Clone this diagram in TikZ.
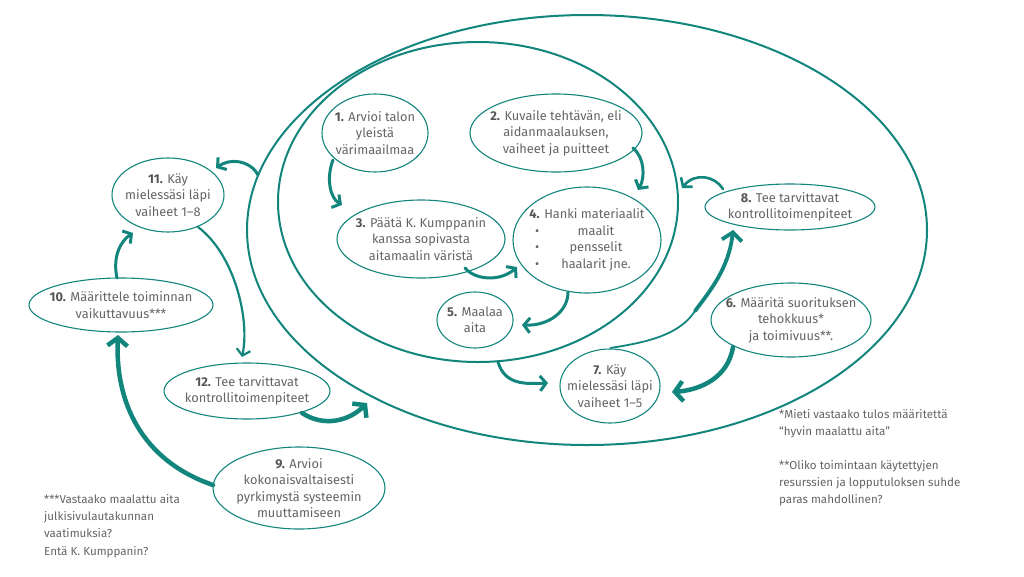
\documentclass[tikz,border=0pt]{standalone}
\usepackage{fontspec}
\setmainfont{Fira Sans}
\usetikzlibrary{shapes.geometric,arrows.meta,calc}
\definecolor{teal}{RGB}{18,133,125}
\definecolor{txtgray}{RGB}{100,100,100}
\definecolor{numgray}{RGB}{85,85,85}
\newcommand\nb[1]{\textbf{\color{numgray}#1}}
\newcommand\bitem[1]{\makebox[120pt][l]{\rlap{\hspace*{8pt}\textbullet}\makebox[138pt]{#1}}}
\tikzset{
  bigell/.style={ellipse, draw=teal, line width=2pt, inner sep=0pt},
  stage/.style 2 args={ellipse, draw=teal, line width=1.1pt, inner sep=0pt, minimum width=#1, minimum height=#2},
  txt/.style={align=center, text=txtgray, inner sep=0pt, font=\fontsize{12.8}{16.5}\selectfont},
  note/.style={align=left, text=txtgray, inner sep=0pt, anchor=north west, font=\fontsize{11.6}{17.3}\selectfont},
  arr/.style={draw=teal, line width=3pt, line cap=round, -{Straight Barb[length=6pt,width=15pt]}},
  thinarr/.style={draw=teal, line width=2.2pt, line cap=round, -{Straight Barb[length=6pt,width=14pt]}},
  thickarr/.style={draw=teal, line width=4.5pt, line cap=round, -{Straight Barb[length=8pt,width=20pt]}}
}
\begin{document}
\begin{tikzpicture}[x=1pt,y=-1pt]
\useasboundingbox (0,0) rectangle (1024,576);
% big ellipses
\node[bigell, minimum width=680pt, minimum height=430pt] (outer) at (587,230) {};
\node[bigell, minimum width=400pt, minimum height=320pt] (inner) at (478,202) {};
% stage ellipses
\node[stage={106pt}{78pt}] (n1) at (375,133) {};
\node[stage={172pt}{78pt}] (n2) at (556,133) {};
\node[stage={168pt}{78pt}] (n3) at (421,239) {};
\node[stage={148pt}{106pt}] (n4) at (587,240) {};
\node[stage={76pt}{56pt}] (n5) at (475,320) {};
\node[stage={100pt}{74pt}] (n7) at (610,386) {};
\node[stage={170pt}{46pt}] (n8) at (790,207) {};
\node[stage={160pt}{74pt}] (n6) at (791,320) {};
\node[stage={112pt}{74pt}] (n11) at (168,195) {};
\node[stage={184pt}{54pt}] (n10) at (121,305) {};
\node[stage={166pt}{56pt}] (n12) at (247,391) {};
\node[stage={172pt}{82pt}] (n9) at (299,488) {};
% texts
\node[txt] (t1) at (n1) {\nb{1.} Arvioi talon\\yleistä\\värimaailmaa};
\node[txt] (t2) at (n2) {\nb{2.} Kuvaile tehtävän, eli\\aidanmaalauksen,\\vaiheet ja puitteet};
\node[txt] (t3) at (n3) {\nb{3.} Päätä K. Kumppanin\\kanssa sopivasta\\aitamaalin väristä};
\node[txt] (t4) at (n4) {\nb{4.} Hanki materiaalit\\\bitem{maalit}\\\bitem{pensselit}\\\bitem{haalarit jne.}};
\node[txt] (t5) at (n5) {\nb{5.} Maalaa\\aita};
\node[txt] (t6) at (n6) {\nb{6.} Määritä suorituksen\\tehokkuus*\\ja toimivuus**.};
\node[txt] (t7) at (n7) {\nb{7.} Käy\\mielessäsi läpi\\vaiheet 1–5};
\node[txt] (t8) at (n8) {\nb{8.} Tee tarvittavat\\kontrollitoimenpiteet};
\node[txt] (t9) at (n9) {\nb{9.} Arvioi\\kokonaisvaltaisesti\\pyrkimystä systeemin\\muuttamiseen};
\node[txt] (t10) at (n10) {\nb{10.} Määrittele toiminnan\\vaikuttavuus***};
\node[txt] (t11) at (n11) {\nb{11.} Käy\\mielessäsi läpi\\vaiheet 1–8};
\node[txt] (t12) at (n12) {\nb{12.} Tee tarvittavat\\kontrollitoimenpiteet};
% notes
\node[note] (a1) at (779,409) {*Mieti vastaako tulos määritettä\\“hyvin maalattu aita”};
\node[note] (a2) at (779,460) {**Oliko toimintaan käytettyjen\\resurssien ja lopputuloksen suhde\\paras mahdollinen?};
\node[note] (a3) at (44,494) {***Vastaako maalattu aita\\julkisivulautakunnan\\vaatimuksia?\\Entä K. Kumppanin?};
% arrows
\draw[arr] ($(n1)+(-42,27)$) .. controls ($(n1)+(-49,45)$) and ($(n3)+(-91,-41)$) .. ($(n3)+(-79,-34)$);
\draw[arr] ($(n2)+(77,15)$) .. controls ($(n2)+(89,25)$) and ($(n4)+(58,-62)$) .. ($(n4)+(51,-50)$);
\draw[arr] ($(n3)+(44,29)$) .. controls ($(n3)+(54,41)$) and ($(n4)+(-87,42)$) .. ($(n4)+(-70,27)$);
\draw[arr] ($(n4)+(-19,52)$) .. controls ($(n4)+(-19,72)$) and ($(n5)+(73,6)$) .. ($(n5)+(47,5)$);
\draw[arr] ($(inner)+(20,160)$) .. controls ($(inner)+(27,183)$) and ($(n7)+(-85,-2)$) .. ($(n7)+(-62,-3)$);
\draw[thickarr] ($(n6)+(-58,27)$) .. controls ($(n6)+(-63,58)$) and ($(n7)+(90,4)$) .. ($(n7)+(62,6)$);
\draw[draw=teal, line width=1.8pt] ($(n7)+(0,-38)$) .. controls ($(n7)+(40,-44)$) and ($(n7)+(70,-52)$) .. ($(n7)+(85,-75)$) coordinate (m78);
\draw[thickarr, line width=3.8pt] (m78) .. controls ($(m78)+(15,-20)$) and ($(n8)+(-61,61)$) .. ($(n8)+(-57,23)$);
\draw[arr, line width=2.6pt] ($(n8)+(-67,-18)$) .. controls ($(n8)+(-75,-31)$) and ($(inner)+(217,-30)$) .. ($(inner)+(204,-14)$);
\draw[arr] ($(outer)+(-329,-55)$) .. controls ($(outer)+(-337,-70)$) and ($(n11)+(62,-37)$) .. ($(n11)+(48,-27)$);
\draw[thinarr] ($(n11)+(30,32)$) .. controls ($(n11)+(67,60)$) and ($(n12)+(3,-71)$) .. ($(n12)+(-5,-34)$);
\draw[arr] ($(n10)+(-4,-27)$) .. controls ($(n10)+(-9,-50)$) and ($(n11)+(-46,45)$) .. ($(n11)+(-35,38)$);
\draw[thickarr] ($(n9)+(-86,-3)$) .. controls ($(n9)+(-159,-28)$) and ($(n10)+(-6,95)$) .. ($(n10)+(-3,30)$);
\draw[thickarr] ($(n12)+(55,22)$) .. controls ($(n12)+(78,37)$) and ($(outer)+(-237,190)$) .. ($(outer)+(-220,173)$);
\end{tikzpicture}
\end{document}
